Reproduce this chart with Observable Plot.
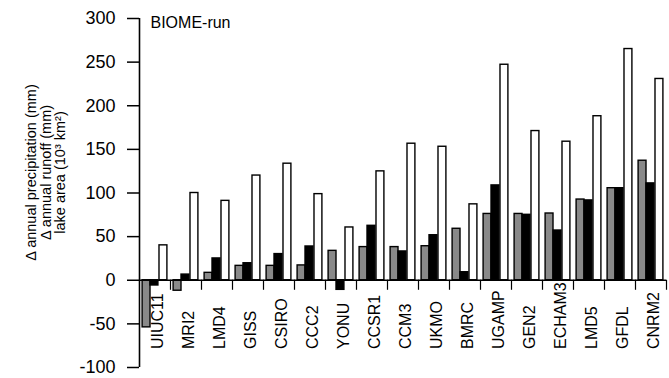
<!DOCTYPE html>
<html><head><meta charset="utf-8">
<script src="https://cdn.jsdelivr.net/npm/d3@7"></script>
<script src="https://cdn.jsdelivr.net/npm/@observablehq/plot@0.6"></script>
<style>
body{margin:0;background:#fff;}
</style></head><body><div id="chart"></div>
<script>
const models = ["UIUC11","MRI2","LMD4","GISS","CSIRO","CCC2","YONU","CCSR1","CCM3","UKMO","BMRC","UGAMP","GEN2","ECHAM3","LMD5","GFDL","CNRM2"];
const precipitation = [-54,-12,8.5,16.5,16.5,17,33.7,38,38,39,59,76,76,76.5,92.5,105.5,137];
const runoff = [-6,6.5,25,19.5,30,38.7,-11,62.4,33,51.6,9.2,108.7,75,57,91.5,105.5,111];
const lakeArea = [40,100,91,120,133.6,98.7,60.5,124.8,156.5,153,87,247,171,158.8,188,265,230.7];
const yTicks = [-100,-50,0,50,100,150,200,250,300];
const seriesNames = ["precipitation","runoff","lake area"];
const panelLabel = "BIOME-run";
const yTitle = "Δ annual precipitation (mm)\nΔ annual runoff (mm)\nlake area (10³ km²)";

// layout: fractional slot of each bar within its model group
const slots = {"precipitation": [0.10, 0.355], "runoff": [0.355, 0.61], "lake area": [0.645, 0.90]};
const seriesValues = {"precipitation": precipitation, "runoff": runoff, "lake area": lakeArea};
const rows = models.flatMap((m, i) => seriesNames.map(s => ({model: m, i, series: s, value: seriesValues[s][i]})));
const boundaries = d3.range(1, models.length + 1);

const chart = Plot.plot({
  width: 669,
  height: 378,
  marginLeft: 139,
  marginRight: 3,
  marginTop: 18,
  marginBottom: 11,
  style: {fontFamily: "'Liberation Sans', Arial, Helvetica, sans-serif", background: "#fff", color: "#000"},
  x: {type: "linear", domain: [0, models.length], axis: null},
  y: {domain: [-100, 300], axis: null},
  color: {domain: seriesNames, range: ["#898989", "#000000", "#ffffff"]},
  marks: [
    Plot.rectY(rows, {
      x1: d => d.i + slots[d.series][0],
      x2: d => d.i + slots[d.series][1],
      y1: 0, y2: "value",
      fill: "series", stroke: "#000", strokeWidth: 1.4
    }),
    Plot.ruleY([0], {stroke: "#000", strokeWidth: 1.4}),
    Plot.ruleX([0], {stroke: "#000", strokeWidth: 1.6}),
    Plot.ruleX(boundaries, {y1: 0, y2: -11.5, stroke: "#000", strokeWidth: 1.2}),
    Plot.axisY({ticks: yTicks, tickSize: 12, tickPadding: 12, tickFormat: d => String(d), fontSize: 18, strokeWidth: 1.5, label: null}),
    Plot.text(models, {x: (d, i) => i + 0.5, text: d => d, frameAnchor: "bottom", rotate: -90, textAnchor: "start", dx: 8, dy: -18.5, fontSize: 16}),
    Plot.text([panelLabel], {frameAnchor: "top-left", textAnchor: "start", lineAnchor: "top", dx: 11, dy: -2, fontSize: 16}),
    Plot.text([yTitle], {frameAnchor: "left", rotate: -90, textAnchor: "middle", lineAnchor: "middle", lineHeight: 1.0, dx: -93.5, dy: -20.5, fontSize: 14.5})
  ]
});
document.getElementById("chart").appendChild(chart);
</script>
</body></html>
